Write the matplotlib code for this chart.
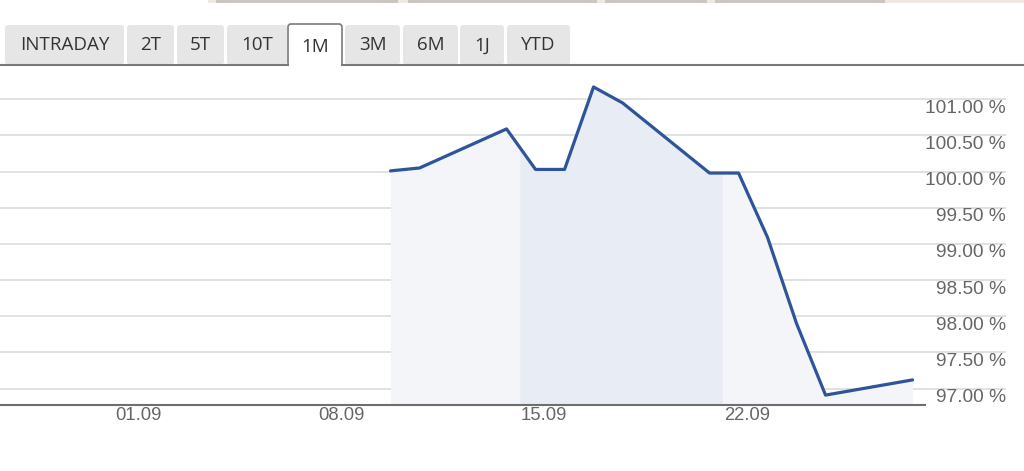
import matplotlib
matplotlib.use("Agg")
import matplotlib.pyplot as plt
import matplotlib.transforms as mtransforms
from matplotlib.patches import FancyBboxPatch, Rectangle
import numpy as np

# trading days (September) and closing level in %
days = [9, 10, 13, 14, 15, 16, 17, 20, 21, 22, 23, 24, 27]
values = [100.01, 100.05, 100.59, 100.03, 100.03, 101.17, 100.95,
          99.98, 99.98, 99.09, 97.90, 96.91, 97.12]
close_hour = 17

tick_days = [1, 8, 15, 22]
tick_labels = ["01.09", "08.09", "15.09", "22.09"]
y_ticks = [97.0, 97.5, 98.0, 98.5, 99.0, 99.5, 100.0, 100.5, 101.0]
y_labels = [f"{v:.2f} %" for v in y_ticks]

# highlighted week under the curve
band_start, band_end = 14.17, 21.14

tabs = ["INTRADAY", "2T", "5T", "10T", "1M", "3M", "6M", "1J", "YTD"]
active_tab = "1M"

# --- layout (pixels) ---
W, H = 1024, 471
tab_left = [5, 127, 177, 227, 288, 345, 403, 460, 507]
tab_right = [124, 174, 224, 287, 342, 400, 458, 504, 570]
top_bars = [(216, 398), (408, 597), (605, 707), (715, 885)]

fig = plt.figure(figsize=(W / 100, H / 100), dpi=100)
fig.patch.set_facecolor("white")

# chart area
ax = fig.add_axes([0, (H - 405) / H, 1006 / W, (405 - 66) / H])
px_day, x0_px = 29.0, 109.0
xmin, xmax = -x0_px / px_day, (1006 - x0_px) / px_day
ymin, ymax = 96.773, 101.46
ax.set_xlim(xmin, xmax)
ax.set_ylim(ymin, ymax)

x = np.array(days) + close_hour / 24
y = np.array(values)

ax.fill_between(x, y, ymin, color="#f3f5f9", lw=0, zorder=1)
inside = (x > band_start) & (x < band_end)
xb = np.concatenate([[band_start], x[inside], [band_end]])
yb = np.interp(xb, x, y)
ax.fill_between(xb, yb, ymin, color="#e8ecf4", lw=0, zorder=1.5)
ax.plot(x, y, color="#2f5499", lw=2.3, solid_joinstyle="round",
        solid_capstyle="round", zorder=3)

ax.set_yticks(y_ticks)
ax.yaxis.grid(True, color="#dfe2e3", lw=1.4, zorder=0)
ax.set_axisbelow(True)
ax.tick_params(axis="y", length=0, labelleft=False)
for s in ax.spines.values():
    s.set_visible(False)

trans = mtransforms.offset_copy(ax.get_yaxis_transform(), fig=fig,
                                x=0, y=-9, units="dots")
for v, lbl in zip(y_ticks, y_labels):
    ax.text(1.0, v, lbl, transform=trans, ha="right", va="center",
            fontsize=13.8, color="#666666", family="Liberation Sans")

ax.set_xticks(tick_days, tick_labels)
ax.tick_params(axis="x", length=0, pad=1.5, labelsize=13.3, labelcolor="#666666")
for t in ax.get_xticklabels():
    t.set_family("Liberation Sans")

ax.plot([0, 925 / 1006], [0, 0], transform=ax.transAxes, color="#6e6e6e",
        lw=1.5, clip_on=False, zorder=4)

# overlay for tabs and page decoration
ov = fig.add_axes([0, 0, 1, 1])
ov.set_xlim(0, W)
ov.set_ylim(H, 0)
ov.axis("off")
ov.patch.set_visible(False)

ov.add_patch(Rectangle((208, 0), W - 208, 3, color="#efe9e2", lw=0))
for a, b in top_bars:
    ov.add_patch(Rectangle((a, 0), b - a, 2.5, color="#c9c5c0", lw=0))

for name, l, r in zip(tabs, tab_left, tab_right):
    if name == active_tab:
        continue
    ov.add_patch(FancyBboxPatch((l, 25), r - l, 39.5,
                                boxstyle="round,pad=0,rounding_size=3",
                                fc="#e6e6e6", ec="none", zorder=2))
    ov.text((l + r) / 2, 45.5, name, ha="center", va="center",
            fontsize=13.5, color="#333333", family="Open Sans", zorder=5)

ai = tabs.index(active_tab)
al, ar = tab_left[ai], tab_right[ai]
ov.plot([0, al], [64.5, 64.5], color="#7a7a7a", lw=1.5, zorder=3)
ov.plot([ar, W], [64.5, 64.5], color="#7a7a7a", lw=1.5, zorder=3)
ov.add_patch(FancyBboxPatch((al, 24), ar - al, 42,
                            boxstyle="round,pad=0,rounding_size=3",
                            fc="white", ec="#7a7a7a", lw=1.2, zorder=4))
ov.add_patch(Rectangle((al + 1, 63), ar - al - 2, 4, color="white", lw=0,
                       zorder=4.5))
ov.text((al + ar) / 2, 47, active_tab, ha="center", va="center",
        fontsize=13.5, color="#333333", family="Open Sans", zorder=5)

fig.savefig("out.png", dpi=100)
